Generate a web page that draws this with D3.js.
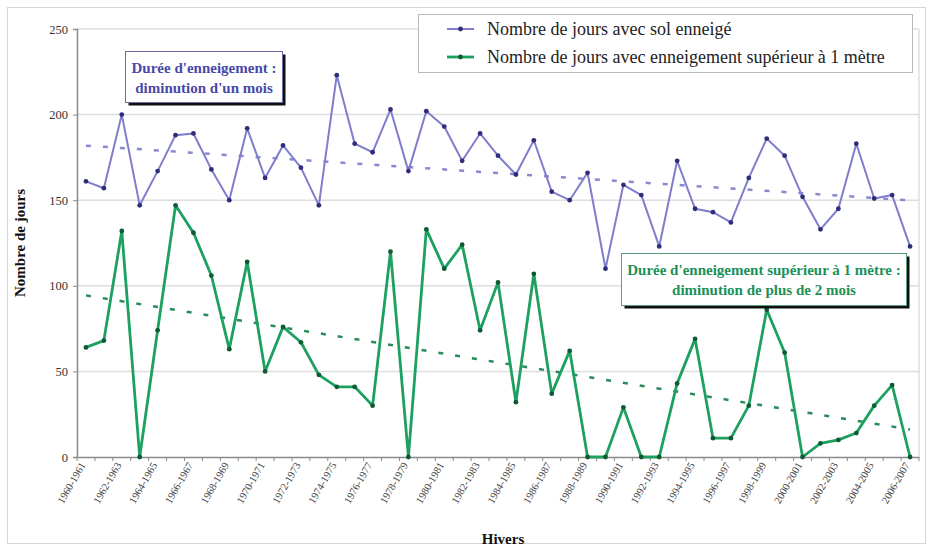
<!DOCTYPE html>
<html>
<head>
<meta charset="utf-8">
<script src="https://cdn.jsdelivr.net/npm/d3@7"></script>
<style>
  html, body { margin: 0; padding: 0; background: #ffffff; }
  svg { display: block; }
  svg text { font-family: "Liberation Serif", "DejaVu Serif", serif; }
</style>
</head>
<body>
<svg id="chart" width="928" height="550" font-family="Liberation Serif, DejaVu Serif, serif"></svg>
<script>
// ---- DATA ----
const winters = [
  "1960-1961","1961-1962","1962-1963","1963-1964","1964-1965","1965-1966","1966-1967","1967-1968",
  "1968-1969","1969-1970","1970-1971","1971-1972","1972-1973","1973-1974","1974-1975","1975-1976",
  "1976-1977","1977-1978","1978-1979","1979-1980","1980-1981","1981-1982","1982-1983","1983-1984",
  "1984-1985","1985-1986","1986-1987","1987-1988","1988-1989","1989-1990","1990-1991","1991-1992",
  "1992-1993","1993-1994","1994-1995","1995-1996","1996-1997","1997-1998","1998-1999","1999-2000",
  "2000-2001","2001-2002","2002-2003","2003-2004","2004-2005","2005-2006","2006-2007"
];
const joursSolEnneige = [
  161,157,200,147,167,188,189,168,150,192,163,182,169,147,223,183,178,203,167,202,
  193,173,189,176,165,185,155,150,166,110,159,153,123,173,145,143,137,163,186,176,
  152,133,145,183,151,153,123
];
const joursSup1m = [
  64,68,132,0,74,147,131,106,63,114,50,76,67,48,41,41,30,120,0,133,
  110,124,74,102,32,107,37,62,0,0,29,0,0,43,69,11,11,30,86,61,
  0,8,10,14,30,42,0
];
const yTicks = [0, 50, 100, 150, 200, 250];
const seriesNames = ["Nombre de jours avec sol enneigé", "Nombre de jours avec enneigement supérieur à 1 mètre"];
const note1 = ["Durée d'enneigement :", "diminution d'un mois"];
const note2 = ["Durée d'enneigement supérieur à 1 mètre :", "diminution de plus de 2 mois"];

// ---- LAYOUT ----
const FONT = "Liberation Serif, DejaVu Serif, serif";
const svg = d3.select("#chart");
const plot = { left: 77, right: 919, top: 29, bottom: 457 };
const colSol = "#7f7dcc", colSolMark = "#2f2d7a", colSolTrend = "#8a88d0";
const colM = "#1ea060", colMMark = "#0e5a32", colMTrend = "#2a8a58";

// outer frame
svg.append("rect").attr("x", 7.5).attr("y", 7.5).attr("width", 918).attr("height", 536)
  .attr("fill", "#fff").attr("stroke", "#d6d6d6").attr("stroke-width", 1);

const x = d3.scaleBand().domain(winters).range([plot.left, plot.right]).padding(0);
const y = d3.scaleLinear().domain([0, 250]).range([plot.bottom, plot.top]);
const cx = d => x(d) + x.bandwidth() / 2;

// gridlines
svg.append("g").selectAll("line").data(yTicks.filter(t => t > 0)).join("line")
  .attr("x1", plot.left).attr("x2", plot.right)
  .attr("y1", d => y(d)).attr("y2", d => y(d))
  .attr("stroke", "#dedede").attr("stroke-width", 1.5);

// right border of plot
svg.append("line").attr("x1", plot.right).attr("x2", plot.right)
  .attr("y1", plot.top).attr("y2", plot.bottom).attr("stroke", "#d0d0d0");

// Y axis
const yAxis = svg.append("g").attr("transform", `translate(${plot.left},0)`)
  .call(d3.axisLeft(y).tickValues(yTicks).tickSize(4).tickPadding(5));
yAxis.attr("font-family", FONT);
yAxis.select(".domain").attr("stroke", "#8a8a8a").attr("stroke-width", 1.5);
yAxis.selectAll(".tick line").attr("stroke", "#8a8a8a");
yAxis.selectAll("text").attr("font-size", 12.5).attr("fill", "#333");

// X axis
const xAxis = svg.append("g").attr("transform", `translate(0,${plot.bottom})`)
  .call(d3.axisBottom(x).tickSize(0).tickFormat((d, i) => i % 2 === 0 ? d : ""));
xAxis.attr("font-family", FONT);
xAxis.select(".domain").attr("stroke", "#8a8a8a").attr("stroke-width", 1.5);
xAxis.selectAll("text")
  .attr("font-size", 10.5).attr("fill", "#444")
  .attr("text-anchor", "end")
  .attr("dy", null).attr("y", 0)
  .attr("transform", "translate(0,8) rotate(-60)");
// ticks between categories
svg.append("g").selectAll("line").data(winters.concat(["__end"])).join("line")
  .attr("x1", (d, i) => plot.left + i * x.bandwidth())
  .attr("x2", (d, i) => plot.left + i * x.bandwidth())
  .attr("y1", plot.bottom).attr("y2", plot.bottom + 4)
  .attr("stroke", "#8a8a8a");

// trend lines (least squares from the data)
function trend(vals) {
  const n = vals.length, idx = d3.range(n);
  const mx = d3.mean(idx), my = d3.mean(vals);
  const b = d3.sum(idx, i => (i - mx) * (vals[i] - my)) / d3.sum(idx, i => (i - mx) ** 2);
  const a = my - b * mx;
  return [[winters[0], a], [winters[n - 1], a + b * (n - 1)]];
}
const tline = d3.line().x(d => cx(d[0])).y(d => y(d[1]));
svg.append("path").attr("d", tline(trend(joursSolEnneige))).attr("fill", "none")
  .attr("stroke", colSolTrend).attr("stroke-width", 2.5).attr("stroke-dasharray", "5,12");
svg.append("path").attr("d", tline(trend(joursSup1m))).attr("fill", "none")
  .attr("stroke", colMTrend).attr("stroke-width", 2.5).attr("stroke-dasharray", "5,12");

// series lines
const line = d3.line().x((d, i) => cx(winters[i])).y(d => y(d));
svg.append("path").attr("d", line(joursSolEnneige)).attr("fill", "none")
  .attr("stroke", colSol).attr("stroke-width", 2).attr("stroke-linejoin", "round");
svg.append("g").selectAll("circle").data(joursSolEnneige).join("circle")
  .attr("cx", (d, i) => cx(winters[i])).attr("cy", d => y(d)).attr("r", 2.4)
  .attr("fill", colSolMark);

svg.append("path").attr("d", line(joursSup1m)).attr("fill", "none")
  .attr("stroke", colM).attr("stroke-width", 2.8).attr("stroke-linejoin", "round");
svg.append("g").selectAll("circle").data(joursSup1m).join("circle")
  .attr("cx", (d, i) => cx(winters[i])).attr("cy", d => y(d)).attr("r", 2.4)
  .attr("fill", colMMark);

// legend
const lg = svg.append("g");
lg.append("rect").attr("x", 418.5).attr("y", 14.5).attr("width", 494).attr("height", 58)
  .attr("fill", "#fff").attr("stroke", "#b8b8b8");
[[colSol, colSolMark, 2], [colM, colMMark, 2.8]].forEach((c, i) => {
  const yy = 29 + i * 28;
  lg.append("line").attr("x1", 447).attr("x2", 474).attr("y1", yy).attr("y2", yy)
    .attr("stroke", c[0]).attr("stroke-width", c[2]);
  lg.append("circle").attr("cx", 460.5).attr("cy", yy).attr("r", 2.4).attr("fill", c[1]);
  lg.append("text").attr("x", 487).attr("y", yy + 5.5).attr("font-size", 18)
    .attr("font-family", FONT).attr("fill", "#222").text(seriesNames[i]);
});

// annotation boxes
function note(x0, y0, w, h, lines, color, border) {
  const g = svg.append("g");
  g.append("rect").attr("x", x0 + 3).attr("y", y0 + 3).attr("width", w).attr("height", h).attr("fill", "#111");
  g.append("rect").attr("x", x0).attr("y", y0).attr("width", w).attr("height", h)
    .attr("fill", "#fff").attr("stroke", border).attr("stroke-width", 1);
  lines.forEach((t, i) => {
    g.append("text").attr("x", x0 + w / 2).attr("y", y0 + 21 + i * 20)
      .attr("text-anchor", "middle").attr("font-size", 15).attr("font-weight", "bold")
      .attr("font-family", FONT).attr("fill", color).text(t);
  });
}
note(125.5, 51.5, 157, 51, note1, "#4848a8", "#6a6aa8");
note(621.5, 253.5, 285, 52, note2, "#1a9058", "#5aa080");

// axis titles
svg.append("text").attr("transform", "translate(25,243) rotate(-90)")
  .attr("text-anchor", "middle").attr("font-size", 15).attr("font-weight", "bold")
  .attr("font-family", FONT).attr("fill", "#111").text("Nombre de jours");
svg.append("text").attr("x", 503).attr("y", 544).attr("text-anchor", "middle")
  .attr("font-size", 15).attr("font-weight", "bold").attr("font-family", FONT)
  .attr("fill", "#111").text("Hivers");
</script>
</body>
</html>
